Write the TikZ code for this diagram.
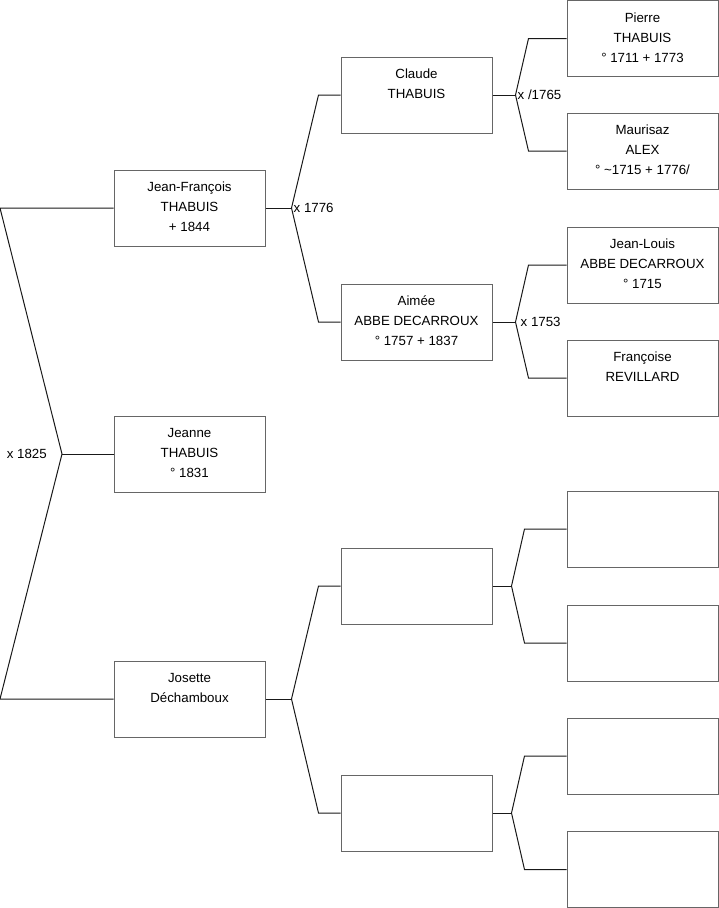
\documentclass[tikz,border=0pt]{standalone}
\usepackage{fontspec}
\setmainfont{Liberation Sans}
\usetikzlibrary{positioning,calc}
\tikzset{
  pers/.style = {rectangle, draw=black!60, line width=1pt, minimum width=151pt,
                 minimum height=76pt, inner sep=0pt},
  who/.style  = {anchor=north, inner sep=0pt, yshift=-12.5pt, align=center,
                 font=\fontsize{13.3}{20}\selectfont, execute at begin node={\rule{0pt}{14pt}}},
  mar/.style  = {inner sep=0pt, font=\fontsize{13.3}{20}\selectfont},
  lnk/.style  = {draw=black!90, line width=1pt},
}

\begin{document}
\begin{tikzpicture}[x=1pt, y=-1pt]
  \useasboundingbox (0,0) rectangle (719,908);

  % generation 1
  \node[pers, label={[who]north:{Jean-François\\THABUIS\\+ 1844}}] (jf) at (189.5,208) {};
  \node[pers, label={[who]north:{Jeanne\\THABUIS\\° 1831}}] (jeanne) at (189.5,454) {};
  \node[pers, label={[who]north:{Josette\\Déchamboux}}] (josette) at (189.5,699) {};

  % generation 2
  \node[pers, label={[who]north:{Claude\\THABUIS}}] (claude) at (416.5,95) {};
  \node[pers, label={[who]north:{Aimée\\ABBE DECARROUX\\° 1757 + 1837}}] (aimee) at (416.5,322) {};
  \node[pers] (p21) at (416.5,586) {};
  \node[pers] (p22) at (416.5,813) {};

  % generation 3
  \node[pers, label={[who]north:{Pierre\\THABUIS\\° 1711 + 1773}}] (pierre) at (642.5,38.5) {};
  \node[pers, label={[who]north:{Maurisaz\\ALEX\\° \textasciitilde1715 + 1776/}}] (maurisaz) at (642.5,151) {};
  \node[pers, label={[who]north:{Jean-Louis\\ABBE DECARROUX\\° 1715}}] (jlouis) at (642.5,265) {};
  \node[pers, label={[who]north:{Françoise\\REVILLARD}}] (francoise) at (642.5,378) {};
  \node[pers] (p31) at (642.5,529) {};
  \node[pers] (p32) at (642.5,643) {};
  \node[pers] (p33) at (642.5,756) {};
  \node[pers] (p34) at (642.5,869.5) {};

  % couples
  \coordinate (r0) at (62,454);
  \coordinate (r1) at ($(jf.east)+(26,0)$);
  \coordinate (r2) at ($(claude.east)+(23,0)$);
  \coordinate (r3) at ($(aimee.east)+(23,0)$);
  \coordinate (r4) at ($(josette.east)+(26,0)$);
  \coordinate (r5) at ($(p21.east)+(19,0)$);
  \coordinate (r6) at ($(p22.east)+(19,0)$);

  \draw[lnk] (jf.west) -- ++(-113.5,0) -- (r0) -- ([xshift=-113.5pt]josette.west) -- (josette.west);
  \draw[lnk] (r0) -- (jeanne.west);

  \draw[lnk] (jf.east) -- (r1);
  \draw[lnk] (claude.west) -- ++(-22,0) -- (r1) -- ([xshift=-22pt]aimee.west) -- (aimee.west);
  \draw[lnk] (josette.east) -- (r4);
  \draw[lnk] (p21.west) -- ++(-22,0) -- (r4) -- ([xshift=-22pt]p22.west) -- (p22.west);

  \draw[lnk] (claude.east) -- (r2);
  \draw[lnk] (pierre.west) -- ++(-38,0) -- (r2) -- ([xshift=-38pt]maurisaz.west) -- (maurisaz.west);
  \draw[lnk] (aimee.east) -- (r3);
  \draw[lnk] (jlouis.west) -- ++(-38,0) -- (r3) -- ([xshift=-38pt]francoise.west) -- (francoise.west);
  \draw[lnk] (p21.east) -- (r5);
  \draw[lnk] (p31.west) -- ++(-42,0) -- (r5) -- ([xshift=-42pt]p32.west) -- (p32.west);
  \draw[lnk] (p22.east) -- (r6);
  \draw[lnk] (p33.west) -- ++(-42,0) -- (r6) -- ([xshift=-42pt]p34.west) -- (p34.west);

  \node[mar, left=15pt of r0] (m0) {x 1825};
  \node[mar, right=2pt of r1] (m1) {x 1776};
  \node[mar, right=2pt of r2] (m2) {x /1765};
  \node[mar, right=5pt of r3] (m3) {x 1753};

\end{tikzpicture}
\end{document}
